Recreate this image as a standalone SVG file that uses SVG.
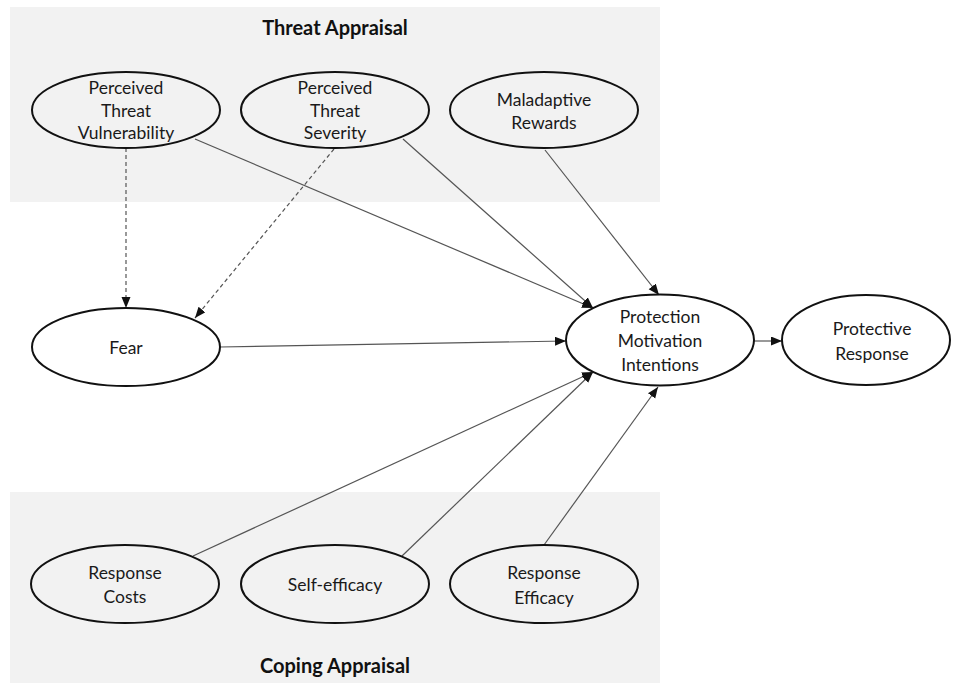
<svg xmlns="http://www.w3.org/2000/svg" width="960" height="683" viewBox="0 0 960 683">
<defs>
<style>
.panel{fill:#f2f2f2;stroke:none}
.node{stroke:#111;stroke-width:2}
.in{fill:#f2f2f2}
.out{fill:#ffffff}
.lbl{font-family:Lato,"Liberation Sans",sans-serif;font-size:17.5px;fill:#1a1a1a;text-anchor:middle}
.title{font-family:Lato,"Liberation Sans",sans-serif;font-size:20px;font-weight:bold;fill:#111;text-anchor:middle}
.edge{stroke:#555;stroke-width:1.2;fill:none;marker-end:url(#arr)}
.dash{stroke-dasharray:4,3}
</style>
<marker id="arr" markerUnits="userSpaceOnUse" markerWidth="12" markerHeight="10" refX="11" refY="4.5" orient="auto">
<path d="M0,0 L11,4.5 L0,9 z" fill="#111"/>
</marker>
</defs>
<rect width="960" height="683" fill="#ffffff"/>
<rect class="panel" x="10" y="7" width="650" height="195"/>
<rect class="panel" x="10" y="492" width="650" height="191"/>
<text class="title" x="335" y="35">Threat Appraisal</text>
<text class="title" x="335" y="673">Coping Appraisal</text>

<g id="connectors">
<line class="edge dash" x1="126" y1="148" x2="126" y2="308"/>
<line class="edge dash" x1="334" y1="149" x2="195" y2="318"/>
<line class="edge" x1="195" y1="139" x2="593" y2="308"/>
<line class="edge" x1="403" y1="139" x2="593" y2="308"/>
<line class="edge" x1="545" y1="150" x2="659" y2="295"/>
<line class="edge" x1="220" y1="347" x2="566" y2="341"/>
<line class="edge" x1="754" y1="341" x2="782" y2="341"/>
<line class="edge" x1="193" y1="556" x2="593" y2="372"/>
<line class="edge" x1="402" y1="556" x2="593" y2="372"/>
<line class="edge" x1="544" y1="545" x2="658" y2="387"/>
</g>

<g id="ptv">
<ellipse class="node in" cx="126" cy="110" rx="94" ry="38"/>
<text class="lbl" x="126" y="94">Perceived</text>
<text class="lbl" x="126" y="117">Threat</text>
<text class="lbl" x="126" y="139">Vulnerability</text>
</g>
<g id="pts">
<ellipse class="node in" cx="335" cy="110" rx="94" ry="38"/>
<text class="lbl" x="335" y="94">Perceived</text>
<text class="lbl" x="335" y="117">Threat</text>
<text class="lbl" x="335" y="139">Severity</text>
</g>
<g id="mr">
<ellipse class="node in" cx="544" cy="110" rx="94" ry="38"/>
<text class="lbl" x="544" y="106">Maladaptive</text>
<text class="lbl" x="544" y="129">Rewards</text>
</g>
<g id="fear">
<ellipse class="node out" cx="126" cy="347" rx="94" ry="39"/>
<text class="lbl" x="126" y="354">Fear</text>
</g>
<g id="pmi">
<ellipse class="node out" cx="660" cy="340" rx="94" ry="45.5"/>
<text class="lbl" x="660" y="323">Protection</text>
<text class="lbl" x="660" y="347">Motivation</text>
<text class="lbl" x="660" y="371">Intentions</text>
</g>
<g id="pr">
<ellipse class="node out" cx="866" cy="340" rx="84" ry="45"/>
<text class="lbl" x="872" y="335">Protective</text>
<text class="lbl" x="872" y="360">Response</text>
</g>
<g id="rc">
<ellipse class="node in" cx="125" cy="584" rx="94" ry="39"/>
<text class="lbl" x="125" y="579">Response</text>
<text class="lbl" x="125" y="603">Costs</text>
</g>
<g id="se">
<ellipse class="node in" cx="335" cy="584" rx="94" ry="39"/>
<text class="lbl" x="335" y="591">Self-efficacy</text>
</g>
<g id="re">
<ellipse class="node in" cx="544" cy="584" rx="94" ry="39"/>
<text class="lbl" x="544" y="579">Response</text>
<text class="lbl" x="544" y="604">Efficacy</text>
</g>
</svg>
